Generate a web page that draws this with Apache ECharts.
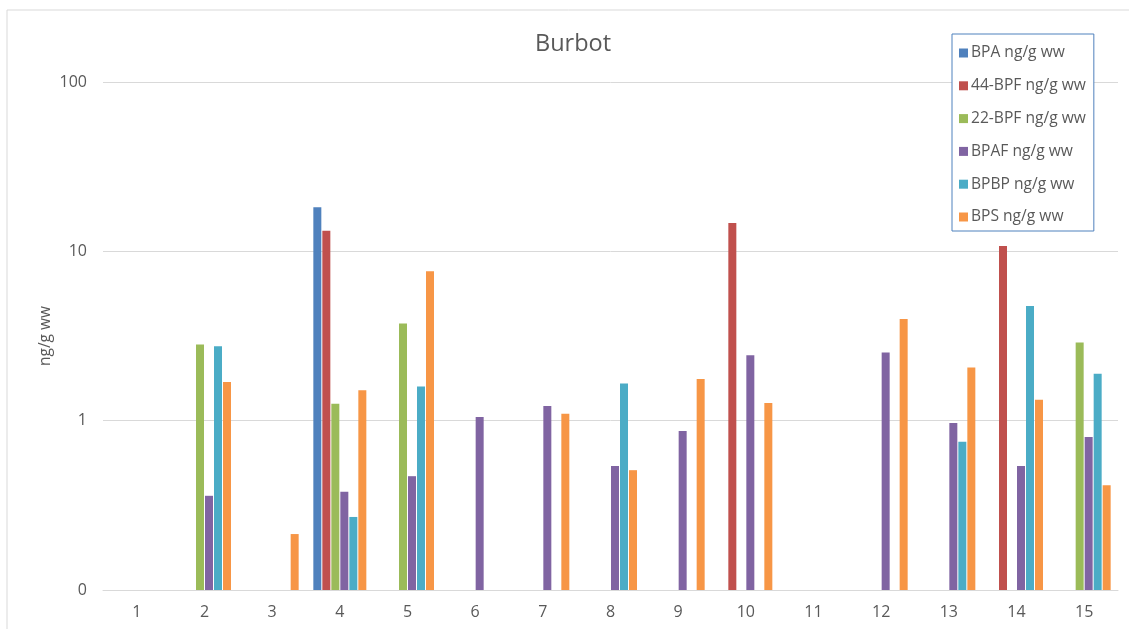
<!DOCTYPE html>
<html>
<head>
<meta charset="utf-8">
<style>
  html, body { margin: 0; padding: 0; background: #ffffff; }
  #chart { width: 1129px; height: 629px; }
</style>
<script src="https://cdn.jsdelivr.net/npm/echarts@6/dist/echarts.min.js"></script>
</head>
<body>
<div id="chart"></div>
<script>
// Sample numbers 1..15
const categories = ['1', '2', '3', '4', '5', '6', '7', '8', '9', '10', '11', '12', '13', '14', '15'];

// Concentrations in ng/g wet weight (null = not detected)
const bpa    = [null, null, null, 18.2, null, null, null, null, null, null, null, null, null, null, null];
const bpf44  = [null, null, null, 13.25, null, null, null, null, null, 14.7, null, null, null, 10.75, null];
const bpf22  = [null, 2.82, null, 1.26, 3.75, null, null, null, null, null, null, null, null, null, 2.89];
const bpaf   = [null, 0.36, null, 0.38, 0.47, 1.05, 1.22, 0.54, 0.87, 2.43, null, 2.53, 0.97, 0.54, 0.80];
const bpbp   = [null, 2.75, null, 0.27, 1.59, null, null, 1.66, null, null, null, null, 0.75, 4.76, 1.89];
const bps    = [null, 1.69, 0.214, 1.51, 7.62, null, 1.10, 0.51, 1.76, 1.27, null, 3.99, 2.06, 1.33, 0.415];

const seriesNames = ['BPA ng/g ww', '44-BPF ng/g ww', '22-BPF ng/g ww', 'BPAF ng/g ww', 'BPBP ng/g ww', 'BPS ng/g ww'];
const seriesData = [bpa, bpf44, bpf22, bpaf, bpbp, bps];
const colors = ['#4F81BD', '#C0504D', '#9BBB59', '#8064A2', '#4BACC6', '#F79646'];

const FONT = '"Open Sans", "Liberation Sans", sans-serif';
const TEXT = '#595959';
const GRID = '#d9d9d9';

const chart = echarts.init(document.getElementById('chart'), null, { renderer: 'canvas' });

chart.setOption({
  animation: false,
  color: colors,
  textStyle: { fontFamily: FONT },
  graphic: [{
    type: 'rect',
    shape: { x: 7, y: 10, width: 1140, height: 640 },
    style: { fill: 'none', stroke: GRID, lineWidth: 1 },
    silent: true,
    z: -1
  }],
  title: {
    text: 'Burbot',
    left: 535,
    top: 32,
    padding: 0,
    textStyle: { fontFamily: FONT, fontSize: 23.5, fontWeight: 'normal', color: TEXT }
  },
  legend: {
    orient: 'vertical',
    left: 952,
    top: 34,
    padding: [10, 8, 5, 7],
    itemGap: 14.8,
    itemWidth: 9,
    itemHeight: 9,
    icon: 'rect',
    borderColor: '#4F81BD',
    borderWidth: 1,
    backgroundColor: '#ffffff',
    textStyle: { fontFamily: FONT, fontSize: 15.6, color: TEXT, lineHeight: 18, padding: [0, 0, 0, -2] },
    data: seriesNames
  },
  grid: { left: 103, right: 11, top: 82, bottom: 39, containLabel: false },
  xAxis: {
    type: 'category',
    data: categories,
    axisLine: { show: true, lineStyle: { color: GRID, width: 1 } },
    axisTick: { show: false },
    axisLabel: { color: TEXT, fontSize: 16, fontFamily: FONT, margin: 14 }
  },
  yAxis: {
    type: 'log',
    logBase: 10,
    min: 0.1,
    max: 100,
    startValue: 0.1,
    name: 'ng/g ww',
    nameLocation: 'middle',
    nameGap: 49,
    nameRotate: 90,
    nameMoveOverlap: false,
    nameTextStyle: { color: TEXT, fontSize: 15.5, fontFamily: FONT },
    axisLine: { show: false },
    axisTick: { show: false },
    splitLine: { show: true, lineStyle: { color: GRID, width: 1 } },
    axisLabel: {
      color: TEXT,
      fontSize: 16,
      fontFamily: FONT,
      margin: 16,
      formatter: v => String(Math.round(v))
    }
  },
  series: seriesNames.map((name, i) => ({
    name: name,
    type: 'bar',
    data: seriesData[i],
    barWidth: 8,
    barGap: '12.5%',
    itemStyle: { color: colors[i] }
  }))
});
</script>
</body>
</html>
